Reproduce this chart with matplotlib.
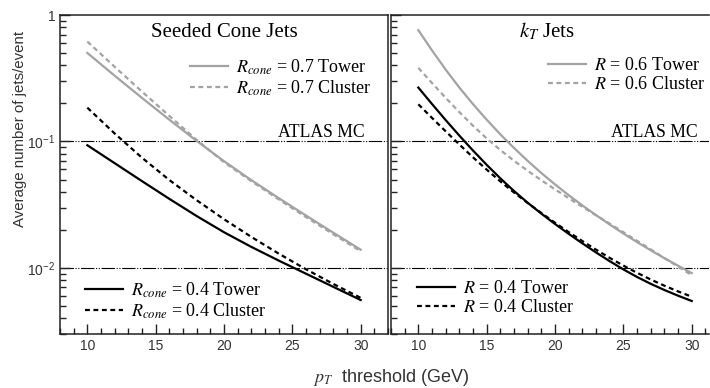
import numpy as np
import matplotlib
matplotlib.use('Agg')
import matplotlib.pyplot as plt
from matplotlib.ticker import FixedLocator, NullFormatter, MultipleLocator

plt.rcParams['font.family'] = ['Liberation Sans', 'DejaVu Sans']
plt.rcParams['mathtext.fontset'] = 'stix'

# ---- data (log10 of jets/event) ----
pt_cone = [10, 12, 14, 16, 18, 20, 22, 24, 26, 28, 30]
cone07_tower = [-0.30, -0.48, -0.656, -0.828, -0.996, -1.156, -1.306, -1.448, -1.586, -1.722, -1.856]
cone07_cluster = [-0.21, -0.41, -0.606, -0.798, -0.988, -1.164, -1.314, -1.458, -1.598, -1.734, -1.868]
cone04_tower = [-1.03, -1.172, -1.314, -1.454, -1.59, -1.718, -1.834, -1.942, -2.046, -2.15, -2.254]
cone04_cluster = [-0.733, -0.937, -1.129, -1.305, -1.465, -1.615, -1.755, -1.887, -2.011, -2.127, -2.237]

pt_kt = list(range(10, 31))
kt06_tower = [-0.12, -0.28, -0.432, -0.574, -0.705, -0.828, -0.944, -1.052, -1.154, -1.25, -1.34,
              -1.425, -1.506, -1.583, -1.657, -1.728, -1.796, -1.861, -1.923, -1.983, -2.041]
kt06_cluster = [-0.418, -0.538, -0.655, -0.768, -0.876, -0.976, -1.068, -1.153, -1.232, -1.307, -1.379,
                -1.449, -1.517, -1.584, -1.65, -1.718, -1.786, -1.854, -1.922, -1.99, -2.058]
kt04_tower = [-0.574, -0.704, -0.831, -0.954, -1.072, -1.185, -1.292, -1.392, -1.485, -1.571, -1.653,
              -1.731, -1.806, -1.878, -1.947, -2.012, -2.072, -2.126, -2.175, -2.22, -2.262]
kt04_cluster = [-0.706, -0.814, -0.92, -1.024, -1.126, -1.223, -1.316, -1.404, -1.487, -1.566, -1.643,
                -1.717, -1.788, -1.856, -1.921, -1.982, -2.039, -2.092, -2.141, -2.186, -2.228]

ref_levels = [0.1, 0.01]
x_ticks = [10, 15, 20, 25, 30]

GRAY = '#a3a3a3'
serif = {'family': 'Liberation Serif', 'size': 13}

fig = plt.figure(figsize=(7.10, 3.88), dpi=100)
ax1 = fig.add_axes([60 / 710, 54 / 388, 328 / 710, 319 / 388])
ax2 = fig.add_axes([391 / 710, 54 / 388, 318 / 710, 319 / 388])


def style_axes(ax, xmax, labels):
    ax.set_yscale('log')
    ax.set_xlim(8, xmax)
    ax.set_ylim(0.003, 1)
    ax.xaxis.set_major_locator(FixedLocator(x_ticks))
    ax.xaxis.set_minor_locator(MultipleLocator(1))
    ax.set_yticks([0.01, 0.1, 1])
    if labels:
        ax.set_yticklabels([r'$\mathdefault{10^{-2}}$', r'$\mathdefault{10^{-1}}$', '1'])
    else:
        ax.yaxis.set_major_formatter(NullFormatter())
    ax.yaxis.set_minor_formatter(NullFormatter())
    ax.tick_params(which='both', direction='in', top=False, right=False, labelsize=10,
                   colors='#222222', labelcolor='#333333')
    ax.tick_params(which='major', length=7, width=1)
    ax.tick_params(which='minor', length=4, width=1)
    for s in ax.spines.values():
        s.set_linewidth(1.1)
        s.set_color('#222222')
    for lvl in ref_levels:
        ax.axhline(lvl, color='black', lw=0.8, ls=(0, (12, 1.5, 1, 1.5, 1, 1.5)), zorder=1)


style_axes(ax1, 32, True)
style_axes(ax2, 8 + 318 / 13.67, False)
ax2.spines['right'].set_visible(False)

dash = (0, (2.2, 1.6))
leg_kw = dict(loc='upper left', frameon=False, prop=serif, handlelength=2.1,
              handletextpad=0.45, labelspacing=0.1, borderpad=0, borderaxespad=0)

# ---- left: seeded cone ----
g1, = ax1.plot(pt_cone, 10 ** np.array(cone07_tower), color=GRAY, lw=1.6)
g2, = ax1.plot(pt_cone, 10 ** np.array(cone07_cluster), color=GRAY, lw=1.6, ls=dash)
b1, = ax1.plot(pt_cone, 10 ** np.array(cone04_tower), color='black', lw=1.6)
b2, = ax1.plot(pt_cone, 10 ** np.array(cone04_cluster), color='black', lw=1.6, ls=dash)

leg = ax1.legend([g1, g2], [r'$R_{cone}$ = 0.7 Tower', r'$R_{cone}$ = 0.7 Cluster'],
                 bbox_to_anchor=(0.396, 0.868), **leg_kw)
ax1.add_artist(leg)
ax1.legend([b1, b2], [r'$R_{cone}$ = 0.4 Tower', r'$R_{cone}$ = 0.4 Cluster'],
           bbox_to_anchor=(0.076, 0.168), **leg_kw)

ax1.text(20, 0.665, 'Seeded Cone Jets', ha='center', va='baseline',
         fontfamily='Liberation Serif', fontsize=15)
ax1.text(30.3, 0.108, 'ATLAS MC', ha='right', va='baseline',
         fontfamily='Liberation Serif', fontsize=12.7)

# ---- right: kT ----
h1, = ax2.plot(pt_kt, 10 ** np.array(kt06_tower), color=GRAY, lw=1.6)
h2, = ax2.plot(pt_kt, 10 ** np.array(kt06_cluster), color=GRAY, lw=1.6, ls=dash)
k1, = ax2.plot(pt_kt, 10 ** np.array(kt04_tower), color='black', lw=1.6)
k2, = ax2.plot(pt_kt, 10 ** np.array(kt04_cluster), color='black', lw=1.6, ls=dash)

leg2 = ax2.legend([h1, h2], [r'$R$ = 0.6 Tower', r'$R$ = 0.6 Cluster'],
                  bbox_to_anchor=(0.493, 0.868), **leg_kw)
ax2.add_artist(leg2)
ax2.legend([k1, k2], [r'$R$ = 0.4 Tower', r'$R$ = 0.4 Cluster'],
           bbox_to_anchor=(0.081, 0.168), **leg_kw)

ax2.text(19.4, 0.665, r'$k_T$ Jets', ha='center', va='baseline',
         fontfamily='Liberation Serif', fontsize=15)
ax2.text(30.4, 0.108, 'ATLAS MC', ha='right', va='baseline',
         fontfamily='Liberation Serif', fontsize=12.7)

fig.text(0.028, 0.667, 'Average number of jets/event', rotation=90, ha='center', va='center',
         fontsize=10.8, color='#333333')
fig.text(0.551, 0.027, r'$p_T$  threshold (GeV)', ha='center', va='center',
         fontsize=13, color='#333333')

fig.savefig('out.png', dpi=100)
